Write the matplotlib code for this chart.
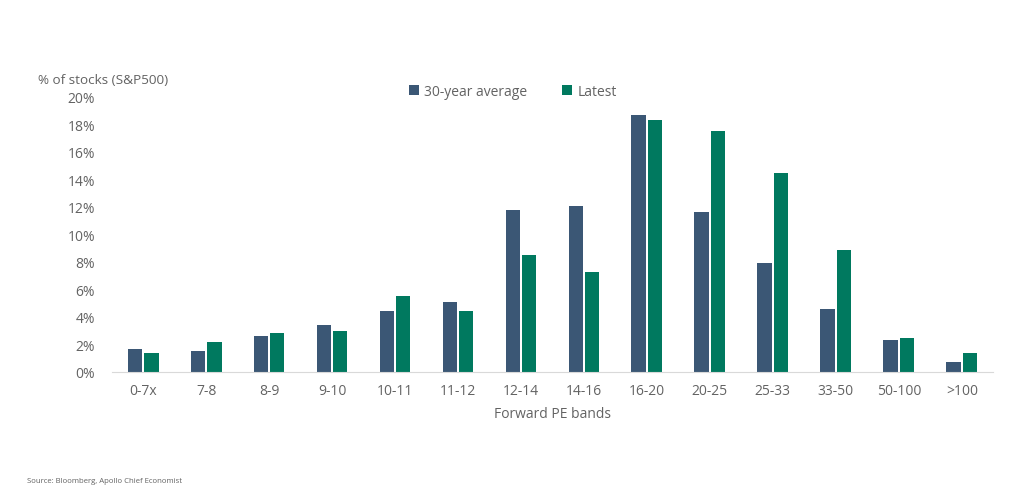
import matplotlib.pyplot as plt
import numpy as np

plt.rcParams['font.family'] = ['Open Sans', 'DejaVu Sans']

# data
bands = ['0-7x', '7-8', '8-9', '9-10', '10-11', '11-12', '12-14', '14-16',
         '16-20', '20-25', '25-33', '33-50', '50-100', '>100']
avg_30y = [1.7, 1.5, 2.6, 3.4, 4.4, 5.1, 11.8, 12.1, 18.7, 11.6, 7.9, 4.6, 2.3, 0.7]
latest = [1.4, 2.2, 2.8, 3.0, 5.5, 4.4, 8.5, 7.3, 18.3, 17.5, 14.5, 8.9, 2.5, 1.4]
yticks = [0, 2, 4, 6, 8, 10, 12, 14, 16, 18, 20]

grey = '#636363'
fig = plt.figure(figsize=(10.24, 5.02), dpi=100)
ax = fig.add_axes([0.109, 0.257, 0.861, 0.548])

x = np.arange(len(bands))
w = 0.225
ax.bar(x - w / 2 - 0.02, avg_30y, w, color='#3B5775', label='30-year average')
ax.bar(x + w / 2 + 0.02, latest, w, color='#00795F', label='Latest')

ax.set_xlim(-0.5, len(bands) - 0.5)
ax.set_ylim(0, 20)
ax.set_yticks(yticks)
ax.set_yticklabels([f'{t}%' for t in yticks])
ax.set_xticks(x)
ax.set_xticklabels(bands)
ax.tick_params(length=0, colors=grey, labelsize=10)
ax.tick_params(axis='x', pad=8)
ax.tick_params(axis='y', pad=12)

for s in ['top', 'right', 'left']:
    ax.spines[s].set_visible(False)
ax.spines['bottom'].set_color('#d9d9d9')

ax.set_xlabel('Forward PE bands', color=grey, fontsize=10, labelpad=6)
fig.text(0.037, 0.84, '% of stocks (S&P500)', color=grey, fontsize=9.7, va='center')

ax.legend(loc='center', bbox_to_anchor=(0.455, 1.019), ncol=2, frameon=False,
          fontsize=10, labelcolor=grey, handlelength=0.7, handleheight=0.7,
          handletextpad=0.4, columnspacing=2.5)

fig.text(0.026, 0.038, 'Source: Bloomberg, Apollo Chief Economist', color=grey, fontsize=5.6)

plt.savefig('out.png')
